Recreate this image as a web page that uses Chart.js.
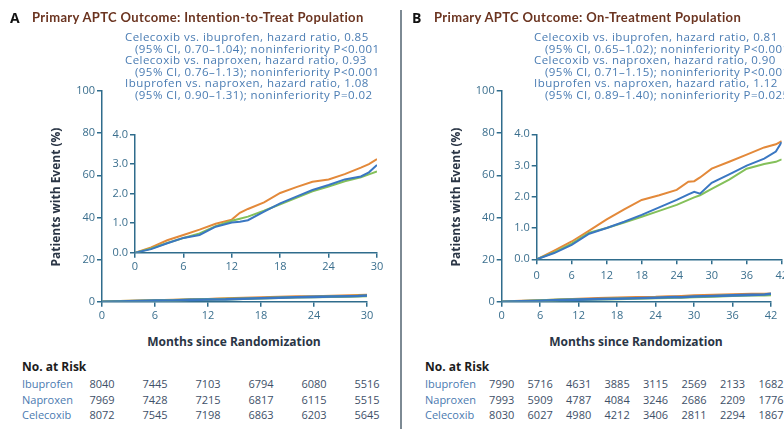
<!DOCTYPE html>
<html>
<head>
<meta charset="utf-8">
<script src="https://cdn.jsdelivr.net/npm/chart.js@4.4.1/dist/chart.umd.min.js"></script>
<style>
  body { margin: 0; width: 784px; height: 429px; overflow: hidden; background: #fff; position: relative; font-family: "Open Sans", Lato, sans-serif; }
  canvas, .t { position: absolute; }
  .t { white-space: nowrap; }
  .letter { font-weight: bold; font-size: 14px; color: #111; }
  .head { font-family: Lato, sans-serif; font-weight: bold; font-size: 13px; letter-spacing: 0.35px; color: #6b3420; }
  .note { font-size: 11.5px; letter-spacing: 0.45px; color: #4a7cb3; line-height: 11.6px; }
  .ytitle { font-weight: bold; font-size: 12px; color: #2a3545; transform: translate(-50%, -50%) rotate(-90deg); }
  .xtitle { font-weight: bold; font-size: 12px; color: #2a3545; transform: translate(-50%, -50%); }
  .risk { font-weight: bold; font-size: 12px; color: #1c1c1c; }
  .rowlab { font-size: 11px; color: #4a7ab0; transform: translateY(-50%); }
  .num { font-size: 11px; color: #3e5068; transform: translate(-50%, -50%); }
  #sep { position: absolute; left: 400px; top: 10px; width: 2px; height: 419px; background: #7d8a94; }
</style>
</head>
<body>
<canvas id="mainA" width="396" height="330" style="left:0;top:0"></canvas>
<canvas id="insetA" width="300" height="165" style="left:95px;top:120px"></canvas>
<canvas id="mainB" width="396" height="330" style="left:400px;top:0"></canvas>
<canvas id="insetB" width="310" height="175" style="left:495px;top:120px"></canvas>
<div id="sep"></div>

<div class="t letter" style="left:10px;top:8px">A</div>
<div class="t head" style="left:32px;top:9px">Primary APTC Outcome: Intention-to-Treat Population</div>
<div class="t note" style="left:125px;top:31px">Celecoxib vs. ibuprofen, hazard ratio, 0.85</div>
<div class="t note" style="left:135px;top:42.6px">(95% CI, 0.70–1.04); noninferiority P&lt;0.001</div>
<div class="t note" style="left:125px;top:54.2px">Celecoxib vs. naproxen, hazard ratio, 0.93</div>
<div class="t note" style="left:135px;top:65.8px">(95% CI, 0.76–1.13); noninferiority P&lt;0.001</div>
<div class="t note" style="left:125px;top:77.4px">Ibuprofen vs. naproxen, hazard ratio, 1.08</div>
<div class="t note" style="left:135px;top:89px">(95% CI, 0.90–1.31); noninferiority P=0.02</div>
<div class="t ytitle" style="left:55px;top:197px">Patients with Event (%)</div>
<div class="t xtitle" style="left:234px;top:341px">Months since Randomization</div>
<div class="t risk" style="left:22px;top:358px">No. at Risk</div>

<div class="t letter" style="left:412px;top:8px">B</div>
<div class="t head" style="left:434px;top:9px">Primary APTC Outcome: On-Treatment Population</div>
<div class="t note" style="left:534px;top:31px">Celecoxib vs. ibuprofen, hazard ratio, 0.81</div>
<div class="t note" style="left:545px;top:42.6px">(95% CI, 0.65–1.02); noninferiority P&lt;0.001</div>
<div class="t note" style="left:534px;top:54.2px">Celecoxib vs. naproxen, hazard ratio, 0.90</div>
<div class="t note" style="left:545px;top:65.8px">(95% CI, 0.71–1.15); noninferiority P&lt;0.001</div>
<div class="t note" style="left:534px;top:77.4px">Ibuprofen vs. naproxen, hazard ratio, 1.12</div>
<div class="t note" style="left:545px;top:89px">(95% CI, 0.89–1.40); noninferiority P=0.025</div>
<div class="t ytitle" style="left:455px;top:197px">Patients with Event (%)</div>
<div class="t xtitle" style="left:636px;top:341px">Months since Randomization</div>
<div class="t risk" style="left:425px;top:358px">No. at Risk</div>

<script>
var drugs = ["Ibuprofen", "Naproxen", "Celecoxib"];
var drugColors = ["#e3893a", "#3a77c2", "#84c05a"];

// A: intention-to-treat, cumulative % with event
var monthsA = [0, 2, 4, 6, 8, 10, 12, 13, 14, 16, 18, 20, 22, 24, 26, 28, 29, 30];
var ibuprofenA = [0, 0.18, 0.42, 0.6, 0.78, 0.98, 1.12, 1.35, 1.48, 1.7, 2.02, 2.22, 2.4, 2.48, 2.66, 2.88, 3.0, 3.17];
var naproxenA  = [0, 0.12, 0.32, 0.5, 0.6, 0.88, 1.02, 1.05, 1.1, 1.39, 1.67, 1.9, 2.12, 2.29, 2.48, 2.58, 2.72, 2.97];
var celecoxibA = [0, 0.14, 0.33, 0.5, 0.65, 0.9, 1.08, 1.15, 1.22, 1.42, 1.64, 1.86, 2.08, 2.24, 2.42, 2.55, 2.65, 2.75];

// B: on-treatment
var monthsB = [0, 3, 6, 9, 12, 15, 18, 21, 24, 26, 27, 28, 30, 33, 36, 39, 41, 42];
var ibuprofenB = [0, 0.28, 0.57, 0.92, 1.28, 1.6, 1.9, 2.05, 2.22, 2.48, 2.5, 2.62, 2.9, 3.12, 3.35, 3.58, 3.68, 3.78];
var naproxenB  = [0, 0.2, 0.46, 0.82, 1.0, 1.2, 1.42, 1.66, 1.9, 2.08, 2.16, 2.1, 2.45, 2.72, 3.0, 3.22, 3.45, 3.75];
var celecoxibB = [0, 0.22, 0.5, 0.85, 1.0, 1.18, 1.36, 1.55, 1.74, 1.9, 1.98, 2.05, 2.25, 2.55, 2.9, 3.05, 3.12, 3.2];

// no. at risk
var riskMonthsA = [0, 6, 12, 18, 24, 30];
var riskA = [
  [8040, 7445, 7103, 6794, 6080, 5516],
  [7969, 7428, 7215, 6817, 6115, 5515],
  [8072, 7545, 7198, 6863, 6203, 5645]
];
var riskMonthsB = [0, 6, 12, 18, 24, 30, 36, 42];
var riskB = [
  [7990, 5716, 4631, 3885, 3115, 2569, 2133, 1682],
  [7993, 5909, 4787, 4084, 3246, 2686, 2209, 1776],
  [8030, 6027, 4980, 4212, 3406, 2811, 2294, 1867]
];

var axisColor = "#2f6c8c";
var tickColor = "#3b6f8e";

function points(xs, ys) {
  return xs.map(function (x, i) { return { x: x, y: ys[i] }; });
}

// s: sizes for the layout, so the chart area lands where the figure has it
function makeChart(id, xs, series, s) {
  var order = [1, 2, 0]; // first dataset is drawn on top: blue, then green, orange
  var ds = order.map(function (k) {
    return {
      label: drugs[k],
      data: points(xs, series[k]),
      borderColor: drugColors[k],
      borderWidth: s.lw,
      pointRadius: 0,
      tension: 0,
      fill: false
    };
  });
  return new Chart(document.getElementById(id), {
    type: "line",
    data: { datasets: ds },
    options: {
      responsive: false,
      animation: false,
      layout: { padding: { top: s.top, right: s.right, left: 0, bottom: 0 } },
      plugins: { legend: { display: false }, tooltip: { enabled: false } },
      scales: {
        x: {
          type: "linear", min: 0, max: s.xmax,
          afterFit: function (sc) { sc.height = s.xh; },
          border: { display: true, color: axisColor, width: 1.5 },
          grid: { drawOnChartArea: false, drawTicks: true, tickLength: 5, color: axisColor, lineWidth: 1.5 },
          ticks: { stepSize: 6, color: tickColor, padding: s.xpad, maxRotation: 0, font: { family: "Open Sans", size: 11 } }
        },
        y: {
          min: 0, max: s.ymax,
          afterFit: function (sc) { sc.width = s.yw; },
          border: { display: true, color: axisColor, width: 1.5 },
          grid: { drawOnChartArea: false, drawTicks: true, tickLength: 5, color: axisColor, lineWidth: 1.5 },
          ticks: {
            stepSize: s.ystep, color: tickColor, padding: 2, font: { family: "Open Sans", size: 11 },
            callback: function (v) { return s.ymax < 10 ? v.toFixed(1) : v; }
          }
        }
      }
    }
  });
}

var mainA = makeChart("mainA", monthsA, [ibuprofenA, naproxenA, celecoxibA],
  { xmax: 30, ymax: 100, ystep: 20, top: 91, right: 29, yw: 102, xh: 28.3, xpad: 3, lw: 2.6 });
makeChart("insetA", monthsA, [ibuprofenA, naproxenA, celecoxibA],
  { xmax: 30, ymax: 4, ystep: 1, top: 14.5, right: 18, yw: 40, xh: 32.3, xpad: 3, lw: 2 });
var mainB = makeChart("mainB", monthsB, [ibuprofenB, naproxenB, celecoxibB],
  { xmax: 42, ymax: 100, ystep: 20, top: 91, right: 25, yw: 101.7, xh: 28.3, xpad: 3, lw: 2.6 });
makeChart("insetB", monthsB, [ibuprofenB, naproxenB, celecoxibB],
  { xmax: 42, ymax: 4, ystep: 1, top: 14.3, right: 23.3, yw: 41.7, xh: 35.7, xpad: 4.5, lw: 2 });

// risk table, columns placed on the main chart's month axis
function riskTable(chart, left, labX, months, rows) {
  var rowY = [383, 399, 414];
  rows.forEach(function (row, r) {
    var lab = document.createElement("div");
    lab.className = "t rowlab";
    lab.style.left = labX + "px";
    lab.style.top = rowY[r] + "px";
    lab.textContent = drugs[r];
    document.body.appendChild(lab);
    row.forEach(function (n, c) {
      var d = document.createElement("div");
      d.className = "t num";
      d.style.left = (left + chart.scales.x.getPixelForValue(months[c])) + "px";
      d.style.top = rowY[r] + "px";
      d.textContent = n;
      document.body.appendChild(d);
    });
  });
}
riskTable(mainA, 0, 22, riskMonthsA, riskA);
riskTable(mainB, 400, 425, riskMonthsB, riskB);
</script>
</body>
</html>
